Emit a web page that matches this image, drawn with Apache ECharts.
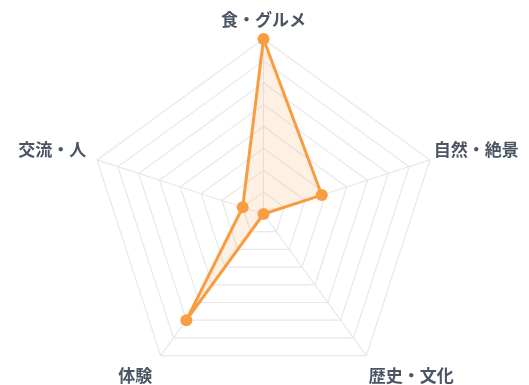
<!DOCTYPE html>
<html>
<head>
<meta charset="utf-8">
<script src="https://cdn.jsdelivr.net/npm/echarts@6/dist/echarts.min.js"></script>
<style>
html,body{margin:0;padding:0;background:#fff;}
#chart{width:529px;height:385px;}
</style>
</head>
<body>
<div id="chart"></div>
<script>
// Indicators in drawing order (top, then counter-clockwise)
const categories = ['食・グルメ', '交流・人', '体験', '歴史・文化', '自然・絶景'];
const values = [100, 12.5, 75, 0, 35];
const maxValue = 100;

const labelKeys = ['top', 'ul', 'll', 'lr', 'ur'];
const baseText = { fontFamily: '"Noto Sans CJK JP"', fontSize: 17, fontWeight: 'bold', color: '#4b5563' };
const rich = {
  top: Object.assign({}, baseText, { padding: [0, 0, 7, 0] }),
  ul:  Object.assign({}, baseText, { padding: [0, 7, 18, 0] }),
  ll:  Object.assign({}, baseText, { padding: [33, 6, 0, 0] }),
  lr:  Object.assign({}, baseText, { padding: [33, 0, 0, 0] }),
  ur:  Object.assign({}, baseText, { padding: [0, 0, 18, 0] })
};

const chart = echarts.init(document.getElementById('chart'), null, { renderer: 'canvas' });
chart.setOption({
  animation: false,
  radar: {
    center: [263.5, 214],
    radius: 175,
    startAngle: 90,
    splitNumber: 8,
    shape: 'polygon',
    indicator: categories.map(function (c) { return { name: c, max: maxValue, min: 0 }; }),
    axisName: {
      formatter: function (name) {
        const i = categories.indexOf(name);
        return '{' + labelKeys[i] + '|' + name + '}';
      },
      rich: rich
    },
    nameGap: 4,
    splitLine: { lineStyle: { color: '#e6e8ee', width: 1.2 } },
    axisLine: { lineStyle: { color: '#e6e8ee', width: 1.2 } },
    splitArea: { show: false },
    axisTick: { show: false },
    axisLabel: { show: false }
  },
  series: [{
    type: 'radar',
    symbol: 'circle',
    symbolSize: 12,
    lineStyle: { color: '#f99d42', width: 3 },
    itemStyle: { color: '#f99d42' },
    areaStyle: { color: 'rgba(249,157,66,0.2)' },
    data: [{ value: values }]
  }]
});
</script>
</body>
</html>
